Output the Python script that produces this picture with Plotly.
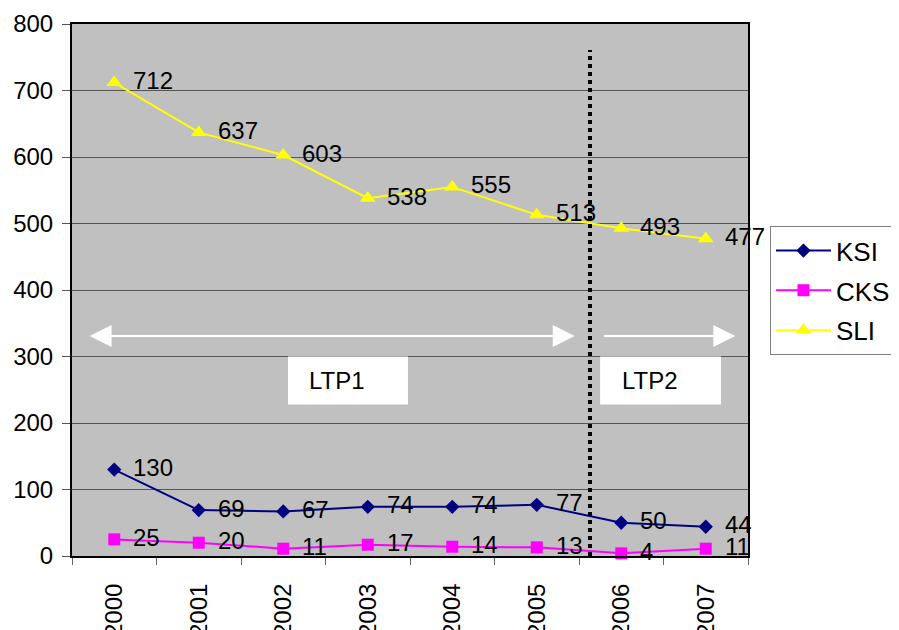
import plotly.graph_objects as go

years = ["2000", "2001", "2002", "2003", "2004", "2005", "2006", "2007"]
ksi = [130, 69, 67, 74, 74, 77, 50, 44]
cksi = [25, 20, 11, 17, 14, 13, 4, 11]
sli = [712, 637, 603, 538, 555, 513, 493, 477]

FONT = "Arial, Liberation Sans, sans-serif"

series = [
    ("KSI", ksi, "#000080", "diamond", 11),
    ("CKSI", cksi, "#FF00FF", "square", 12),
    ("SLI", sli, "#FFFF00", "triangle-up", 14),
]

fig = go.Figure()
annotations = []
for name, vals, col, sym, size in series:
    fig.add_trace(go.Scatter(
        x=years, y=vals, name=name, mode="lines+markers",
        line=dict(color=col, width=2),
        marker=dict(symbol=sym, size=size, color=col),
        legendgroup=name, cliponaxis=False,
    ))
    for i, v in enumerate(vals):
        annotations.append(dict(
            x=i, y=v, xref="x", yref="y", text=str(v), showarrow=False,
            xanchor="left", yanchor="middle", xshift=17, yshift=2,
            font=dict(family=FONT, size=24, color="black"),
        ))

# period arrows
annotations.append(dict(x=5.45, y=331, ax=-0.31, ay=331, axref="x", ayref="y",
                        xref="x", yref="y", text="", showarrow=True,
                        arrowhead=2, startarrowhead=2, arrowside="end+start",
                        arrowsize=2.2, startarrowsize=2.2, arrowwidth=2,
                        arrowcolor="white"))
annotations.append(dict(x=7.35, y=331, ax=5.78, ay=331, axref="x", ayref="y",
                        xref="x", yref="y", text="", showarrow=True,
                        arrowhead=2, arrowside="end",
                        arrowsize=2.2, arrowwidth=2, arrowcolor="white"))

# period labels
annotations.append(dict(x=2.28, y=264, xref="x", yref="y", text="LTP1",
                        showarrow=False, xanchor="left", yanchor="middle",
                        font=dict(family=FONT, size=24, color="black")))
annotations.append(dict(x=5.99, y=264, xref="x", yref="y", text="LTP2",
                        showarrow=False, xanchor="left", yanchor="middle",
                        font=dict(family=FONT, size=24, color="black")))

shapes = [
    dict(type="rect", xref="x", yref="y", x0=2.056, x1=3.476, y0=228, y1=300,
         fillcolor="white", line=dict(width=0), layer="above"),
    dict(type="rect", xref="x", yref="y", x0=5.75, x1=7.18, y0=228, y1=300,
         fillcolor="white", line=dict(width=0), layer="above"),
    dict(type="line", xref="x", yref="y", x0=5.63, x1=5.63, y0=0, y1=761,
         line=dict(color="black", width=4, dash="dot"), layer="above"),
]

# page has an 8px body margin, so the figure is 8px smaller and shifted
fig.update_layout(
    width=891, height=622,
    margin=dict(l=64, r=151, t=16, b=74, pad=0, autoexpand=False),
    paper_bgcolor="white", plot_bgcolor="#C0C0C0",
    font=dict(family=FONT, size=24, color="black"),
    showlegend=True,
    legend=dict(x=1.0325, y=0.62, xanchor="left", yanchor="top",
                bgcolor="white", bordercolor="#808080", borderwidth=1,
                font=dict(family=FONT, size=26, color="black"),
                tracegroupgap=3, itemwidth=55),
    annotations=annotations, shapes=shapes,
    hovermode=False,
)
fig.update_xaxes(
    type="category", range=[-0.5, 7.5], tickson="boundaries",
    ticks="outside", ticklen=7, tickcolor="#666666", tickwidth=1,
    tickangle=-90, showgrid=False, showline=True, linecolor="black",
    linewidth=2, mirror=True, ticklabelstandoff=16, automargin=False,
    tickfont=dict(family=FONT, size=24, color="black"),
)
fig.update_yaxes(
    range=[0, 800], dtick=100, ticks="outside", ticklen=8,
    tickcolor="#555555", tickwidth=1, showgrid=True, gridcolor="#555555",
    gridwidth=1, showline=True, linecolor="black", linewidth=2, mirror=True,
    zeroline=False, ticklabelstandoff=4, automargin=False,
    tickfont=dict(family=FONT, size=24, color="black"),
)

fig.write_html("out.html")
